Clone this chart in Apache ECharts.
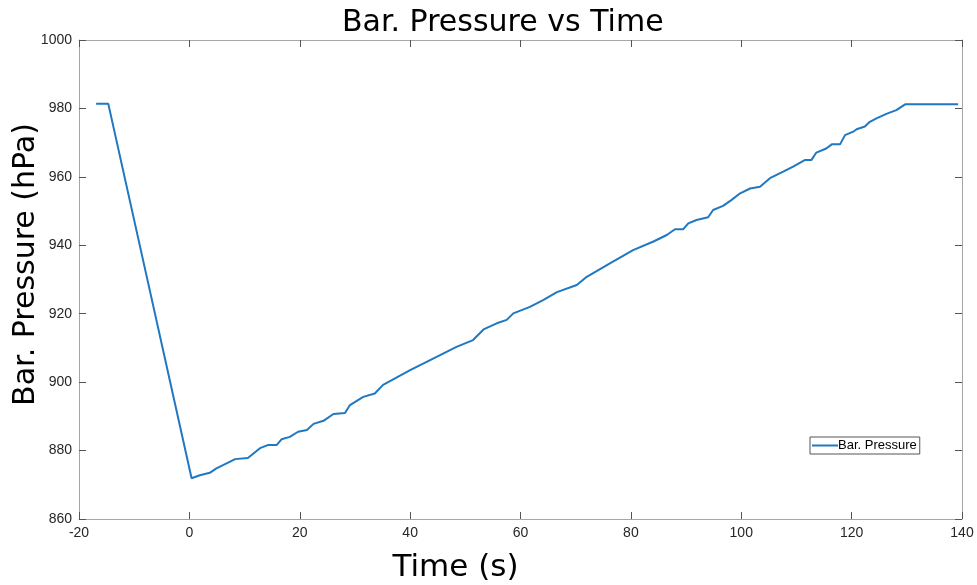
<!DOCTYPE html>
<html>
<head>
<meta charset="utf-8">
<script src="https://cdn.jsdelivr.net/npm/echarts@6/dist/echarts.min.js"></script>
<style>html,body{margin:0;padding:0;background:#fff}#c{width:977px;height:585px}</style>
</head>
<body>
<div id="c"></div>
<script>
var seriesName = 'Bar. Pressure';
var timeS = [-16.9, -14.7, 0.4, 1.9, 3.7, 4.9, 8.3, 10.6, 12.8, 14.2, 15.8, 16.7, 18.2, 19.7, 21.3, 22.5, 24.3, 26.1, 28.2, 29.1, 31.5, 33.6, 35.1, 40.0, 44.8, 48.4, 51.4, 53.3, 55.7, 57.5, 58.7, 61.7, 64.1, 66.6, 70.2, 72.0, 76.2, 80.4, 84.1, 86.5, 88.0, 89.5, 90.4, 91.9, 94.0, 94.9, 96.7, 98.2, 99.8, 101.6, 103.4, 105.2, 107.6, 109.4, 111.5, 112.7, 113.6, 115.4, 116.4, 117.9, 118.8, 120.3, 120.9, 122.4, 123.3, 124.5, 126.3, 128.1, 129.7, 136.0, 139.3];
var pressure = [981.4, 981.4, 871.9, 872.8, 873.5, 874.8, 877.5, 877.8, 880.7, 881.6, 881.6, 883.3, 884.0, 885.5, 886.0, 887.8, 888.7, 890.7, 891.0, 893.3, 895.7, 896.7, 899.2, 903.5, 907.4, 910.3, 912.3, 915.4, 917.2, 918.2, 920.1, 922.0, 924.0, 926.3, 928.4, 930.8, 934.7, 938.6, 941.1, 943.0, 944.7, 944.7, 946.4, 947.4, 948.2, 950.3, 951.5, 953.2, 955.2, 956.6, 957.1, 959.6, 961.5, 963.0, 964.9, 964.9, 967.1, 968.3, 969.5, 969.5, 972.2, 973.2, 973.9, 974.7, 976.1, 977.1, 978.4, 979.5, 981.2, 981.2, 981.2];
var xTicks = {min: -20, max: 140, interval: 20};
var yTicks = {min: 860, max: 1000, interval: 20};

var data = timeS.map(function (t, i) { return [t, pressure[i]]; });
var axisGray = '#a6a6a6';
var labelColor = '#262626';
var plainFmt = function (v) { return String(v); };
var chart = echarts.init(document.getElementById('c'));
chart.setOption({
  animation: false,
  backgroundColor: '#fff',
  title: {
    text: 'Bar. Pressure vs Time',
    left: 337, top: 3,
    textStyle: {fontFamily: 'DejaVu Sans', fontSize: 30, fontWeight: 'normal', color: '#000'}
  },
  legend: {
    data: [seriesName],
    left: 810, top: 437,
    orient: 'vertical',
    itemWidth: 26, itemHeight: 2, itemGap: 4,
    padding: [2, 3, 2, 2],
    borderColor: '#555', borderWidth: 1,
    backgroundColor: '#fff',
    icon: 'rect',
    textStyle: {fontFamily: 'Liberation Sans', fontSize: 13, color: '#000', padding: [0, 0, 0, -5]}
  },
  grid: {left: 79, right: 15, top: 40, bottom: 66, containLabel: false, outerBoundsMode: 'none'},
  xAxis: [{
    type: 'value', min: xTicks.min, max: xTicks.max, interval: xTicks.interval,
    name: 'Time (s)', nameLocation: 'middle', nameGap: 33, nameMoveOverlap: false,
    nameTextStyle: {fontFamily: 'DejaVu Sans', fontSize: 31, color: '#000', padding: [0, 130, 0, 0]},
    axisLine: {show: true, onZero: false, lineStyle: {color: axisGray, width: 1}},
    axisTick: {show: true, inside: true, length: 7, lineStyle: {color: '#555'}},
    axisLabel: {fontFamily: 'Liberation Sans', fontSize: 14, color: labelColor, margin: 7, formatter: plainFmt},
    splitLine: {show: false}
  }, {
    type: 'value', position: 'top', min: xTicks.min, max: xTicks.max, interval: xTicks.interval,
    axisLine: {show: true, onZero: false, lineStyle: {color: axisGray, width: 1}},
    axisTick: {show: true, inside: true, length: 7, lineStyle: {color: '#555'}},
    axisLabel: {show: false}, splitLine: {show: false}
  }],
  yAxis: [{
    type: 'value', min: yTicks.min, max: yTicks.max, interval: yTicks.interval,
    name: 'Bar. Pressure (hPa)', nameLocation: 'middle', nameGap: 38, nameMoveOverlap: false,
    nameTextStyle: {fontFamily: 'DejaVu Sans', fontSize: 30, color: '#000', padding: [0, 0, 0, 30]},
    axisLine: {show: true, onZero: false, lineStyle: {color: axisGray, width: 1}},
    axisTick: {show: true, inside: true, length: 7, lineStyle: {color: '#555'}},
    axisLabel: {fontFamily: 'Liberation Sans', fontSize: 14, color: labelColor, margin: 7, formatter: plainFmt},
    splitLine: {show: false}
  }, {
    type: 'value', position: 'right', min: yTicks.min, max: yTicks.max, interval: yTicks.interval,
    axisLine: {show: true, onZero: false, lineStyle: {color: axisGray, width: 1}},
    axisTick: {show: true, inside: true, length: 7, lineStyle: {color: '#555'}},
    axisLabel: {show: false}, splitLine: {show: false}
  }],
  series: [{
    name: seriesName,
    type: 'line',
    data: data,
    showSymbol: false,
    smooth: false,
    lineStyle: {color: '#1f78c1', width: 2},
    itemStyle: {color: '#1f78c1'}
  }]
});
</script>
</body>
</html>
